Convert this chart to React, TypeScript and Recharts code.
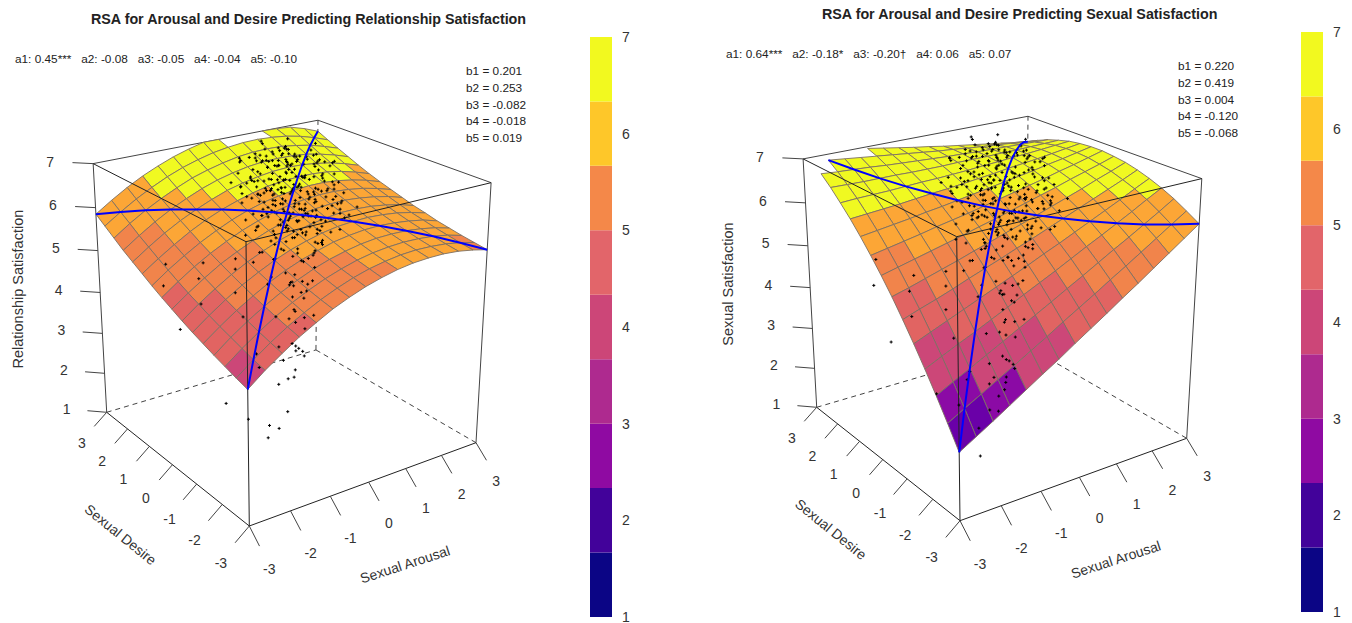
import { BarChart, Bar, YAxis, XAxis, ScatterChart, Scatter } from "recharts";

// grid of the fitted surfaces (columns = arousal, rows = desire)
const gridValues = [-3, -2.6, -2.2, -1.8, -1.4, -1, -0.6, -0.2, 0.2, 0.6, 1, 1.4, 1.8, 2.2, 2.6, 3];
const axisTicks = [-3, -2, -1, 0, 1, 2, 3];
const satTicks = [1, 2, 3, 4, 5, 6, 7];

// null = above the z limit, those facets are not drawn
const relSurface: (number | null)[][] = [
  [4.01, 4.3, 4.55, 4.79, 4.99, 5.18, 5.33, 5.46, 5.56, 5.64, 5.69, 5.71, 5.71, 5.68, 5.62, 5.54],
  [4.09, 4.37, 4.63, 4.86, 5.06, 5.24, 5.39, 5.52, 5.62, 5.69, 5.74, 5.76, 5.75, 5.72, 5.66, 5.58],
  [4.18, 4.46, 4.71, 4.94, 5.14, 5.31, 5.46, 5.58, 5.68, 5.75, 5.79, 5.81, 5.8, 5.77, 5.71, 5.62],
  [4.27, 4.55, 4.8, 5.02, 5.22, 5.39, 5.54, 5.66, 5.75, 5.82, 5.86, 5.87, 5.86, 5.82, 5.76, 5.67],
  [4.37, 4.64, 4.89, 5.11, 5.31, 5.48, 5.62, 5.73, 5.83, 5.89, 5.93, 5.94, 5.92, 5.88, 5.82, 5.72],
  [4.47, 4.74, 4.99, 5.21, 5.4, 5.57, 5.71, 5.82, 5.91, 5.97, 6.0, 6.01, 5.99, 5.95, 5.88, 5.79],
  [4.58, 4.85, 5.09, 5.31, 5.5, 5.66, 5.8, 5.91, 5.99, 6.05, 6.09, 6.09, 6.07, 6.02, 5.95, 5.85],
  [4.7, 4.96, 5.2, 5.42, 5.6, 5.76, 5.9, 6.01, 6.09, 6.14, 6.17, 6.18, 6.15, 6.1, 6.03, 5.93],
  [4.82, 5.08, 5.32, 5.53, 5.71, 5.87, 6.0, 6.11, 6.19, 6.24, 6.27, 6.27, 6.24, 6.19, 6.11, 6.01],
  [4.95, 5.21, 5.44, 5.65, 5.83, 5.99, 6.12, 6.22, 6.29, 6.34, 6.37, 6.37, 6.34, 6.28, 6.2, 6.09],
  [5.09, 5.34, 5.57, 5.78, 5.96, 6.11, 6.23, 6.33, 6.41, 6.45, 6.47, 6.47, 6.44, 6.38, 6.29, 6.18],
  [5.23, 5.48, 5.71, 5.91, 6.08, 6.23, 6.36, 6.45, 6.52, 6.57, 6.59, 6.58, 6.54, 6.48, 6.39, 6.28],
  [5.37, 5.62, 5.85, 6.05, 6.22, 6.37, 6.49, 6.58, 6.65, 6.69, 6.7, 6.69, 6.66, 6.59, 6.5, 6.39],
  [5.53, 5.78, 6.0, 6.19, 6.36, 6.51, 6.62, 6.71, 6.78, 6.82, 6.83, 6.82, 6.77, 6.71, 6.61, 6.5],
  [5.69, 5.93, 6.15, 6.34, 6.51, 6.65, 6.76, 6.85, 6.91, 6.95, 6.96, 6.94, 6.9, 6.83, 6.73, 6.61],
  [5.85, 6.09, 6.31, 6.5, 6.66, 6.8, 6.91, 7.0, 7.0, null, null, 7.0, 6.99, 6.96, 6.86, 6.73],
];

const sexSurface: (number | null)[][] = [
  [2.54, 2.76, 2.98, 3.21, 3.44, 3.67, 3.89, 4.13, 4.36, 4.59, 4.83, 5.06, 5.3, 5.54, 5.78, 6.02],
  [3.0, 3.21, 3.41, 3.62, 3.82, 4.03, 4.24, 4.46, 4.67, 4.88, 5.1, 5.31, 5.53, 5.75, 5.97, 6.19],
  [3.44, 3.63, 3.81, 4.0, 4.19, 4.38, 4.57, 4.76, 4.96, 5.15, 5.35, 5.55, 5.74, 5.94, 6.14, 6.35],
  [3.86, 4.03, 4.2, 4.36, 4.53, 4.7, 4.88, 5.05, 5.22, 5.4, 5.58, 5.75, 5.93, 6.11, 6.3, 6.48],
  [4.26, 4.41, 4.56, 4.71, 4.86, 5.01, 5.16, 5.31, 5.47, 5.62, 5.78, 5.94, 6.1, 6.26, 6.43, 6.59],
  [4.64, 4.77, 4.89, 5.02, 5.16, 5.29, 5.42, 5.56, 5.69, 5.83, 5.97, 6.11, 6.25, 6.39, 6.53, 6.68],
  [5.0, 5.1, 5.21, 5.32, 5.43, 5.55, 5.66, 5.78, 5.89, 6.01, 6.13, 6.25, 6.37, 6.5, 6.62, 6.75],
  [5.33, 5.42, 5.51, 5.6, 5.69, 5.78, 5.88, 5.97, 6.07, 6.17, 6.27, 6.37, 6.48, 6.58, 6.68, 6.79],
  [5.64, 5.71, 5.78, 5.85, 5.93, 6.0, 6.07, 6.15, 6.23, 6.31, 6.39, 6.47, 6.56, 6.64, 6.73, 6.82],
  [5.93, 5.98, 6.03, 6.08, 6.14, 6.19, 6.25, 6.31, 6.37, 6.43, 6.49, 6.55, 6.62, 6.68, 6.75, 6.82],
  [6.2, 6.23, 6.26, 6.29, 6.33, 6.37, 6.4, 6.44, 6.48, 6.52, 6.57, 6.61, 6.65, 6.7, 6.75, 6.8],
  [6.44, 6.46, 6.47, 6.48, 6.5, 6.52, 6.53, 6.55, 6.57, 6.6, 6.62, 6.65, 6.67, 6.7, 6.73, 6.76],
  [6.67, 6.66, 6.65, 6.65, 6.65, 6.64, 6.64, 6.64, 6.65, 6.65, 6.65, 6.66, 6.66, 6.67, 6.68, 6.69],
  [6.87, 6.84, 6.82, 6.8, 6.77, 6.75, 6.73, 6.71, 6.69, 6.68, 6.66, 6.65, 6.64, 6.63, 6.62, 6.61],
  [null, 7.0, 6.96, 6.92, 6.88, 6.84, 6.8, 6.76, 6.72, 6.69, 6.65, 6.62, 6.59, 6.56, 6.53, 6.5],
  [null, null, null, null, 6.96, 6.9, 6.84, 6.78, 6.73, 6.67, 6.62, 6.57, 6.52, 6.47, 6.42, 6.37],
];

// respondents
const arousalScores = [
  1.2, 0.6, 1.8, 0.9, 1.5, 0.3, 2.1, 1.0, 1.4, 0.7,
  0.4, 1.7, 1.1, 2.4, 0.8, 1.3, 0.1, 1.9, 0.5, 1.6,
  1.0, 2.2, 0.2, 1.4, 0.9, 1.8, 0.6, 1.9, 1.2, 0.0,
  1.5, 0.8, 2.0, 1.1, 0.3, 1.7, 0.9, 2.3, 0.6, 1.3,
  0.7, 2.1, 1.6, 0.2, 1.0, 2.0, 0.5, 1.4, 1.1, 1.9,
  1.3, 0.4, 1.8, 0.9, 1.7, 0.1, 1.2, 2.2, 0.6, 1.5,
  1.0, 1.8, 0.3, 1.8, 0.8, 1.4, 1.9, 0.5, 1.1, 1.9,
  0.2, 1.6, 0.7, 1.2, 2.1, 0.9, 1.5, 0.4, 1.8, 0.6,
  1.1, 2.3, 0.0, 1.4, 0.8, 1.7, 1.0, 2.0, 0.3, 1.2,
  1.4, 0.5, 2.2, 0.8, 1.6, 0.2, 1.1, 1.9, 0.7, 1.3,
  0.9, 1.7, 0.4, 1.2, 2.0, 0.6, 1.5, 1.0, 0.3, 1.8,
  1.1, 0.6, 2.4, 1.6, 0.9, 1.3, 0.2, 2.0, 0.8, 1.4,
  1.7, 0.5, 1.0, 2.2, 0.7, 1.2, 1.5, 0.1, 1.9, 0.9,
  0.3, 1.4, 0.8, 1.8, 1.1, 1.8, 0.6, 1.6, 1.2, 0.4,
  0.6, 1.2, 0.0, 1.6, 0.9, 0.3, 1.9, 0.7, 1.3, -0.2,
  0.4, 0.3, -0.4, 0.9, 0.2, 0.8, 1.1, -0.1, 0.7, 0.0,
  -0.1, 0.5, -0.6, 0.2, 0.0, -0.3, 0.1, 0.6, -0.1, 0.5,
  -0.5, -0.3, 0.2, -0.8, -0.4, 0.0, -0.2, -0.3, -1.0, -0.1,
  -0.7, -1.2, -0.6, -0.7, -1.5, -0.6, -0.9, -0.9, -1.8, -1.0,
  -2.2, -1.4, -1.1, -2.0, -1.2, -2.5, -1.0, -1.6, -1.5, -2.7,
  -2.6, -2.3, -2.8, -2.0, -2.0, -1.6, -1.2, -1.8, -2.4, -1.8,
  1.3, 0.7, 1.9, 1.0, 0.4, 1.6, 0.9, 1.2, 2.1, 0.6,
  0.8, 1.5, 1.1, 0.3, 1.8, 1.0, 2.3, 0.5, 1.4, 0.9,
  1.6, 0.6, 1.2, 2.0, 0.2, 1.4, 0.8, 1.7, 1.0, 0.5,
  1.1, 1.9, 0.4, 0.9, 1.5, 0.7, 1.8, 1.3, 0.1, 1.7,
  0.6, 1.2, 1.6, 0.3, 0.9, 2.2, 1.0, 0.7, 1.4, 1.9,
  0.2, 0.8, 1.3, -0.1, 1.0, 0.5, 1.1, 0.0, 0.7, 1.1,
  0.6, 0.0, 0.6, -0.2, 0.1, 0.4, 0.1, 0.9, 0.1, -0.2,
  1.4, 0.9, 1.8, 0.4, 1.1, 0.6, 2.0, 1.3, 0.8, 1.6,
  0.9, 1.1, 0.7, 1.3, 0.8, 1.0, 0.6, 1.2, 0.5, 1.4,
  1.0, 0.8, 1.2, 0.6, 1.1, 0.9, 1.5, 0.7, 1.3, 0.4,
  0.8, 1.4, 1.0, 0.5, 1.2, 0.7, 1.6, 0.9, 0.3, 1.1,
  1.3, 0.6, 0.9, 1.5, 0.8, 1.1, 0.4, 1.2, 0.7, 1.0,
  1.6, 1.2, 1.8, 0.9, 1.4, 1.0, 1.7, 0.8, 1.1, 1.5,
];
const desireScores = [
  1.6, 1.1, 1.9, 2.2, 0.8, 1.4, 1.5, 0.5, 2.4, 1.8,
  0.9, 1.2, 0.3, 1.7, 2.6, 1.0, 1.9, 0.6, 2.1, 2.3,
  1.3, 0.9, 0.7, 2.0, 0.1, 2.5, 1.5, 1.3, 0.6, 1.1,
  2.7, 0.4, 1.0, 1.7, 2.2, 0.2, 1.0, 2.1, 0.8, 1.4,
  2.9, 1.8, 0.7, 1.6, 0.8, 2.8, 1.2, 1.1, 2.6, 0.3,
  1.9, 2.4, 2.2, 1.5, 1.3, 0.6, 0.9, 0.4, 2.0, 2.1,
  2.0, 1.0, 1.2, 0.6, 0.6, 1.5, 2.4, 0.5, 1.1, 0.8,
  2.5, 1.6, 0.9, 2.8, 1.2, 1.9, 0.1, 1.7, 0.5, 1.3,
  1.7, 1.4, 1.6, 0.3, 2.3, 2.6, 1.1, 1.6, 0.9, 2.2,
  1.2, 2.0, 1.9, 2.5, 1.7, 1.0, 1.4, 2.2, 1.6, 0.7,
  1.8, 2.0, 1.7, 1.0, 0.7, 2.7, 1.0, 2.4, 2.0, 1.5,
  0.9, 1.4, 1.6, 2.5, 0.4, 2.2, 2.1, 1.0, 1.7, 0.5,
  0.6, 0.7, 2.2, 1.1, 1.1, 1.2, 2.0, 1.3, 1.9, 2.8,
  1.8, 1.8, 1.3, 0.8, 0.2, 0.5, 1.0, 1.2, 1.5, 0.6,
  0.8, 0.4, 0.6, 0.7, 1.2, 0.2, 0.9, 0.0, 1.0, 0.9,
  1.5, -0.2, 1.0, 0.2, 0.5, 1.6, 0.4, 0.3, 0.7, -0.3,
  -0.4, 0.3, 0.4, -0.5, -0.2, 0.6, -0.6, 1.1, -0.1, -0.1,
  0.0, -0.7, -0.3, 0.8, -0.9, -1.0, -0.5, -1.1, 0.5, -0.8,
  -0.6, 0.2, -1.3, -1.2, 1.0, -1.5, -1.0, -1.6, 0.7, -1.7,
  1.4, -0.4, -1.9, 0.3, -1.6, 1.0, -2.0, -1.2, -2.2, 0.0,
  -2.4, -2.7, -1.9, -2.6, -2.9, -2.6, -1.8, -2.3, -2.8, -1.6,
  1.5, 1.9, 1.3, 1.2, 1.6, 2.3, 0.8, 2.7, 1.7, 1.0,
  2.4, 1.1, 1.9, 1.5, 1.8, 0.7, 1.4, 2.6, 0.9, 1.6,
  1.4, 1.7, 2.3, 1.9, 2.2, 1.8, 1.2, 0.9, 1.5, 1.1,
  2.6, 1.6, 1.3, 2.0, 2.2, 0.4, 1.2, 1.3, 1.7, 2.4,
  0.6, 1.0, 0.9, 0.9, 1.4, 2.0, 1.7, 2.2, 2.1, 1.1,
  0.4, 0.1, 0.5, 0.8, 0.1, 0.3, 0.2, 0.5, 0.6, 0.4,
  0.3, -0.1, -0.2, 0.3, -0.4, -0.4, 0.0, 0.2, -0.5, -0.6,
  1.7, 2.1, 1.1, 2.0, 1.3, 1.5, 1.8, 2.2, 0.9, 2.0,
  1.5, 1.3, 1.7, 1.6, 1.2, 1.8, 1.4, 1.1, 1.9, 1.3,
  1.6, 1.9, 1.4, 1.2, 1.0, 1.3, 1.6, 1.5, 1.9, 1.6,
  1.0, 1.0, 2.0, 1.3, 1.7, 1.9, 1.2, 1.6, 1.4, 1.5,
  0.8, 0.9, 0.9, 1.0, 1.4, 1.1, 1.1, 1.3, 1.0, 0.7,
  1.9, 2.0, 1.5, 2.1, 1.6, 2.3, 1.7, 2.4, 1.8, 1.3,
];
const relScores = [
  6.2, 5.9, 6.4, 5.8, 6.1, 5.6, 6.5, 5.7, 6.3, 6.0,
  5.5, 6.0, 5.4, 6.3, 6.1, 5.9, 5.8, 5.8, 6.2, 6.4,
  6.0, 5.9, 5.3, 6.4, 5.2, 6.5, 6.1, 6.2, 5.6, 5.5,
  6.5, 5.4, 6.0, 6.2, 5.9, 5.6, 5.8, 6.5, 5.6, 6.1,
  6.4, 6.4, 5.7, 5.6, 5.6, 6.5, 5.7, 5.9, 6.4, 5.6,
  6.3, 6.0, 6.5, 6.1, 6.0, 5.2, 5.6, 5.7, 6.2, 6.4,
  6.3, 6.0, 5.7, 5.8, 5.4, 6.1, 6.5, 5.3, 5.8, 5.9,
  6.1, 6.2, 5.6, 6.5, 6.1, 6.2, 5.4, 6.0, 5.6, 5.8,
  6.2, 6.2, 5.5, 5.3, 6.3, 6.5, 5.9, 6.3, 5.3, 6.4,
  6.0, 6.2, 6.4, 6.3, 6.2, 5.7, 6.0, 6.5, 6.1, 5.6,
  6.1, 6.5, 6.0, 5.8, 5.8, 6.5, 5.8, 6.5, 6.2, 6.2,
  5.7, 5.8, 6.4, 6.5, 5.5, 6.5, 6.1, 6.1, 5.9, 5.5,
  5.6, 5.4, 6.4, 6.1, 5.7, 5.9, 6.4, 5.4, 6.5, 6.5,
  5.9, 6.3, 5.8, 5.7, 5.2, 5.7, 5.5, 5.9, 6.0, 5.2,
  5.4, 5.6, 5.3, 5.7, 5.6, 5.0, 5.8, 5.0, 5.5, 5.5,
  5.7, 5.0, 5.4, 5.2, 5.1, 5.8, 5.4, 5.0, 5.2, 4.8,
  4.6, 5.0, 5.0, 4.6, 4.6, 5.1, 4.5, 5.4, 4.8, 5.0,
  4.6, 4.2, 4.6, 5.0, 4.0, 4.1, 4.4, 3.9, 4.9, 4.0,
  4.1, 4.5, 3.6, 3.7, 5.0, 3.5, 3.6, 3.3, 4.8, 3.2,
  5.0, 4.2, 3.9, 4.4, 3.6, 4.7, 3.9, 3.7, 3.5, 4.1,
  3.0, 2.9, 3.2, 2.7, 3.2, 4.4, 4.6, 3.5, 2.7, 3.6,
  6.3, 6.2, 6.3, 6.1, 6.0, 6.7, 5.8, 6.8, 6.5, 5.8,
  6.6, 6.0, 6.5, 5.9, 6.6, 5.7, 6.5, 6.6, 5.9, 6.2,
  6.2, 6.1, 6.7, 6.7, 6.4, 6.5, 5.9, 5.9, 6.1, 5.7,
  6.9, 6.4, 5.8, 6.6, 6.8, 5.4, 6.3, 6.1, 6.0, 6.9,
  5.4, 5.7, 5.7, 5.3, 6.0, 6.8, 6.3, 6.6, 6.8, 6.0,
  5.1, 5.0, 5.4, 5.0, 5.2, 5.1, 5.1, 4.9, 5.3, 5.3,
  4.8, 4.5, 4.8, 4.6, 4.4, 4.6, 4.5, 5.0, 4.3, 4.1,
  6.4, 6.6, 6.2, 6.3, 6.1, 6.1, 6.6, 6.8, 5.7, 6.6,
  6.0, 6.2, 6.3, 6.0, 6.4, 6.2, 5.9, 6.4, 6.1, 6.3,
  5.8, 6.5, 5.7, 6.2, 5.7, 6.5, 5.9, 6.0, 6.6, 6.5,
  5.6, 5.6, 6.6, 5.7, 6.6, 5.7, 5.7, 6.6, 5.6, 6.5,
  5.4, 5.4, 5.5, 5.6, 5.4, 5.4, 5.3, 5.3, 5.4, 5.2,
  6.5, 6.8, 6.5, 6.7, 6.0, 6.8, 6.2, 6.7, 6.0, 5.9,
];
const sexScores = [
  6.1, 5.8, 6.5, 6.2, 5.8, 5.5, 6.4, 5.5, 6.5, 6.0,
  5.2, 5.9, 5.1, 6.3, 6.2, 5.8, 5.6, 5.7, 6.0, 6.4,
  5.9, 6.0, 5.0, 6.3, 5.0, 6.5, 5.9, 6.2, 5.5, 5.3,
  6.5, 5.2, 5.9, 6.1, 5.8, 5.3, 5.6, 6.5, 5.4, 6.0,
  6.4, 6.4, 5.6, 5.5, 5.4, 6.5, 5.5, 5.8, 6.4, 5.6,
  6.3, 5.9, 6.5, 6.0, 6.0, 5.0, 5.4, 5.8, 6.1, 6.4,
  6.2, 5.9, 5.5, 5.9, 5.3, 6.1, 6.5, 5.0, 5.7, 6.0,
  6.0, 6.1, 5.4, 6.5, 6.1, 6.1, 5.3, 5.8, 5.7, 5.6,
  6.1, 6.3, 5.3, 5.3, 6.2, 6.5, 5.7, 6.2, 5.0, 6.3,
  5.9, 6.1, 6.4, 6.3, 6.2, 5.6, 5.9, 6.5, 6.0, 5.6,
  6.0, 6.5, 5.9, 5.7, 5.8, 6.4, 5.8, 6.5, 6.0, 6.2,
  5.6, 5.7, 6.4, 6.5, 5.3, 6.4, 5.9, 6.1, 5.8, 5.4,
  5.6, 5.2, 6.3, 6.1, 5.5, 5.8, 6.4, 5.2, 6.5, 6.4,
  5.7, 6.2, 5.7, 5.7, 5.0, 5.8, 5.3, 5.8, 5.9, 4.9,
  5.2, 5.3, 5.0, 5.6, 5.4, 4.8, 5.6, 4.9, 5.5, 5.1,
  5.5, 4.8, 5.2, 5.1, 4.8, 5.7, 5.4, 4.7, 5.1, 4.5,
  4.3, 4.8, 4.7, 4.5, 4.2, 4.8, 4.3, 5.2, 4.5, 4.9,
  4.2, 3.8, 4.4, 4.6, 3.6, 3.9, 4.0, 3.6, 4.4, 3.8,
  3.6, 4.0, 3.2, 3.3, 4.6, 3.1, 3.1, 2.9, 4.4, 2.8,
  5.0, 3.6, 3.2, 4.0, 3.1, 4.6, 3.5, 3.0, 3.0, 3.7,
  3.2, 2.1, 3.3, 3.0, 3.1, 4.0, 4.2, 3.4, 2.8, 3.4,
  6.2, 6.2, 6.3, 6.0, 5.9, 6.7, 5.6, 6.8, 6.5, 5.6,
  6.6, 6.0, 6.4, 5.7, 6.6, 5.5, 6.5, 6.5, 5.8, 6.1,
  6.2, 6.0, 6.7, 6.7, 6.2, 6.4, 5.8, 5.9, 6.0, 5.5,
  6.9, 6.4, 5.6, 6.5, 6.8, 5.2, 6.4, 6.0, 5.8, 6.9,
  5.2, 5.5, 5.7, 5.0, 5.8, 6.8, 6.2, 6.5, 6.8, 6.0,
  4.8, 4.7, 5.3, 4.7, 5.3, 4.8, 4.9, 4.6, 5.1, 5.3,
  4.7, 4.2, 4.7, 4.3, 4.1, 4.5, 4.2, 5.0, 4.1, 3.8,
  6.4, 6.6, 6.2, 6.2, 6.1, 6.0, 6.6, 6.8, 5.6, 6.6,
  6.0, 6.1, 6.3, 5.9, 6.4, 6.1, 5.8, 6.4, 6.0, 6.3,
  5.7, 6.5, 5.6, 6.1, 5.5, 6.5, 5.8, 5.9, 6.6, 6.4,
  5.4, 5.5, 6.6, 5.5, 6.6, 5.5, 5.7, 6.6, 5.4, 6.5,
  5.4, 5.2, 5.3, 5.6, 5.2, 5.3, 5.0, 5.2, 5.2, 5.0,
  6.5, 6.8, 6.6, 6.7, 6.0, 6.8, 6.3, 6.7, 6.0, 6.0,
];

const legendBands = [1.667, 0.667, 0.666, 0.667, 0.667, 0.666, 0.667, 0.667, 0.666];
const legendColors = ["#0B0585", "#42029A", "#8F0AA2", "#AE2A8F", "#CC4678", "#E2656A", "#F48849", "#FEC729", "#F2F91F"];
const facetLimits = [3.1, 3.67, 4.33, 5, 5.67, 6.33];
const facetColors = ["#6A00A8", "#8B0AA5", "#CC4778", "#E16462", "#F1844B", "#FCA636", "#F0F921"];

type Projection = { o: number[]; a: number[]; b: number[]; c: number[] };

const projA: Projection = { o: [249.3, 526], a: [476, 442.7], b: [106.7, 412.3], c: [246, 241.7] };
const projB: Projection = { o: [960, 520.7], a: [1186.7, 438.3], b: [816.7, 407.3], c: [956.7, 236.7] };
// perspective weights of the three box axes
const WA = 1.112;
const WB = 1.169;
const WC = 0.918;

// arousal, desire, satisfaction -> picture position
function project(p: Projection, x: number, y: number, z: number) {
  const u = (x + 3) / 6;
  const v = (y + 3) / 6;
  const w = (z - 1) / 6;
  const h = 1 + (WA - 1) * u + (WB - 1) * v + (WC - 1) * w;
  const px = p.o[0] + (WA * u * (p.a[0] - p.o[0]) + WB * v * (p.b[0] - p.o[0]) + WC * w * (p.c[0] - p.o[0])) / h;
  const py = p.o[1] + (WA * u * (p.a[1] - p.o[1]) + WB * v * (p.b[1] - p.o[1]) + WC * w * (p.c[1] - p.o[1])) / h;
  return { px, py };
}

function facetColor(z: number) {
  const idx = facetLimits.findIndex((l) => z < l);
  return facetColors[idx === -1 ? facetColors.length - 1 : idx];
}

function buildFacets(p: Projection, surface: (number | null)[][]) {
  const out: any[] = [];
  for (let j = gridValues.length - 2; j >= 0; j--) {
    for (let i = gridValues.length - 2; i >= 0; i--) out.push({ i, j });
  }
  out.sort((m, n) => n.i + n.j - (m.i + m.j));
  return out
    .map(({ i, j }) => {
      const zs = [surface[j][i], surface[j][i + 1], surface[j + 1][i + 1], surface[j + 1][i]];
      if (zs.some((z) => z === null)) return null;
      const xs = [gridValues[i], gridValues[i + 1], gridValues[i + 1], gridValues[i]];
      const ys = [gridValues[j], gridValues[j], gridValues[j + 1], gridValues[j + 1]];
      const corners = zs.map((z, k) => project(p, xs[k], ys[k], z as number));
      const px = corners.reduce((s, c) => s + c.px, 0) / 4;
      const py = corners.reduce((s, c) => s + c.py, 0) / 4;
      const mean = (zs as number[]).reduce((s, z) => s + z, 0) / 4;
      return { px, py, corners, fill: facetColor(mean) };
    })
    .filter(Boolean);
}

const FacetShape = (props: any) => {
  const { cx, cy, payload } = props;
  const pts = payload.corners.map((c: any) => `${cx + c.px - payload.px},${cy + c.py - payload.py}`).join(" ");
  return <polygon points={pts} fill={payload.fill} stroke="#7d6f62" strokeWidth={0.9} />;
};

const NoDot = () => <g />;

// small plus sign, like pch = 3 at this size
const DotShape = (props: any) => (
  <path d={`M${props.cx - 1.5} ${props.cy}h3M${props.cx} ${props.cy - 1.5}v3`} stroke="#000" strokeWidth={1} fill="none" />
);

const LabelShape = (props: any) => {
  const { cx, cy, payload } = props;
  return (
    <text
      x={cx}
      y={cy}
      textAnchor="middle"
      dominantBaseline="central"
      fontSize={payload.size}
      fill="#333"
      fontFamily="Liberation Sans, Arial, sans-serif"
      transform={payload.angle ? `rotate(${payload.angle} ${cx} ${cy})` : undefined}
    >
      {payload.text}
    </text>
  );
};

function Panel({ p, surface, scores, left, zTitle }: any) {
  const pt = (x: number, y: number, z: number) => project(p, x, y, z);
  const seg = (a: any, b: any) => [a, b];

  const backEdges = [
    seg(pt(-3, 3, 7), pt(3, 3, 7)),
    seg(pt(3, 3, 7), pt(3, -3, 7)),
    seg(pt(-3, 3, 1), pt(-3, 3, 7)),
    seg(pt(3, -3, 1), pt(3, -3, 7)),
  ];
  const hiddenEdges = [
    seg(pt(-3, 3, 1), pt(3, 3, 1)),
    seg(pt(3, 3, 1), pt(3, -3, 1)),
    seg(pt(3, 3, 1), pt(3, 3, 7)),
  ];
  const frontEdges = [
    seg(pt(-3, -3, 1), pt(3, -3, 1)),
    seg(pt(-3, -3, 1), pt(-3, 3, 1)),
    seg(pt(-3, -3, 1), pt(-3, -3, 7)),
    seg(pt(-3, -3, 7), pt(-3, 3, 7)),
    seg(pt(-3, -3, 7), pt(3, -3, 7)),
  ];
  const tickLines = [
    ...axisTicks.map((t) => seg(pt(t, -3, 1), pt(t, -3.36, 0.724))),
    ...axisTicks.map((t) => seg(pt(-3, t, 1), pt(-3.34, t, 0.736))),
    ...satTicks.map((t) => seg(pt(-3, 3, t), pt(-3.33, 3.33, t))),
  ];
  const labels = [
    ...axisTicks.map((t) => ({ ...pt(t, -3.7, 0.37), text: String(t), size: 14 })),
    ...axisTicks.map((t) => ({ ...pt(-3.68, t, 0.4), text: String(t), size: 14 })),
    ...satTicks.map((t) => ({ ...pt(-3.69, 3.69, t), text: String(t), size: 14 })),
    { ...pt(0, -4.26, -0.34), text: "Sexual Arousal", size: 14, angle: -18 },
    { ...pt(-4.33, 0, -0.27), text: "Sexual Desire", size: 14, angle: 39 },
    { ...pt(-4.37, 4.37, 3.95), text: zTitle, size: 14.5, angle: -90 },
  ];

  const n = gridValues.length;
  const loc = gridValues.map((v, i) => (surface[i][i] === null ? null : pt(v, v, surface[i][i]))).filter(Boolean);
  const loic = gridValues
    .map((v, i) => (surface[n - 1 - i][i] === null ? null : pt(v, -v, surface[n - 1 - i][i])))
    .filter(Boolean);
  const dots = arousalScores.map((a, i) => pt(a, desireScores[i], scores[i]));
  const facets = buildFacets(p, surface);

  return (
    <div style={{ position: "absolute", left, top: 0 }}>
      <ScatterChart width={676} height={623} margin={{ top: 0, right: 0, bottom: 0, left: 0 }}>
        <XAxis type="number" dataKey="px" domain={[left, left + 676]} hide />
        <YAxis type="number" dataKey="py" domain={[0, 623]} reversed hide />
        {backEdges.map((d, i) => (
          <Scatter key={`back${i}`} data={d} shape={NoDot} line={{ stroke: "#444", strokeWidth: 1 }} isAnimationActive={false} />
        ))}
        {hiddenEdges.map((d, i) => (
          <Scatter key={`hid${i}`} data={d} shape={NoDot} line={{ stroke: "#444", strokeWidth: 1, strokeDasharray: "5 4" }} isAnimationActive={false} />
        ))}
        <Scatter data={facets} shape={FacetShape} isAnimationActive={false} />
        {frontEdges.map((d, i) => (
          <Scatter key={`front${i}`} data={d} shape={NoDot} line={{ stroke: "#222", strokeWidth: 1 }} isAnimationActive={false} />
        ))}
        {tickLines.map((d, i) => (
          <Scatter key={`tick${i}`} data={d} shape={NoDot} line={{ stroke: "#444", strokeWidth: 1 }} isAnimationActive={false} />
        ))}
        <Scatter data={dots} shape={DotShape} isAnimationActive={false} />
        <Scatter data={loc} shape={NoDot} line={{ stroke: "#0000FF", strokeWidth: 2 }} isAnimationActive={false} />
        <Scatter data={loic} shape={NoDot} line={{ stroke: "#0000FF", strokeWidth: 2 }} isAnimationActive={false} />
        <Scatter data={labels} shape={LabelShape} isAnimationActive={false} />
      </ScatterChart>
    </div>
  );
}

function ColorBar({ left, top }: { left: number; top: number }) {
  const row: Record<string, number | string> = { name: "legend" };
  legendBands.forEach((b, i) => (row[`b${i}`] = b));
  return (
    <div style={{ position: "absolute", left, top }}>
      <BarChart width={62} height={620} data={[row]} margin={{ top: 10, right: 0, bottom: 30, left: 0 }} barCategoryGap={0}>
        <XAxis dataKey="name" hide />
        <YAxis
          orientation="right"
          domain={[1, 7]}
          ticks={satTicks}
          width={40}
          axisLine={false}
          tickLine={false}
          tickMargin={4}
          allowDataOverflow
          tick={{ fontSize: 14, fill: "#333", fontFamily: "Liberation Sans, Arial, sans-serif" }}
        />
        {legendBands.map((_, i) => (
          <Bar key={i} dataKey={`b${i}`} stackId="s" fill={legendColors[i]} isAnimationActive={false} />
        ))}
      </BarChart>
    </div>
  );
}

const textBase: React.CSSProperties = {
  position: "absolute",
  fontFamily: "Liberation Sans, Arial, sans-serif",
  color: "#222",
  whiteSpace: "pre",
  lineHeight: 1,
};

function Note({ left, top, size = 11.8, bold, children }: any) {
  return <div style={{ ...textBase, left, top, fontSize: size, fontWeight: bold ? 700 : 400 }}>{children}</div>;
}

export default function App() {
  const coefA = ["b1 = 0.201", "b2 = 0.253", "b3 = -0.082", "b4 = -0.018", "b5 = 0.019"];
  const coefB = ["b1 = 0.220", "b2 = 0.419", "b3 = 0.004", "b4 = -0.120", "b5 = -0.068"];
  return (
    <div style={{ position: "absolute", left: 0, top: 0, width: 1352, height: 623, background: "#fff", overflow: "hidden" }}>
      <Panel p={projA} surface={relSurface} scores={relScores} left={0} zTitle="Relationship Satisfaction" />
      <Panel p={projB} surface={sexSurface} scores={sexScores} left={676} zTitle="Sexual Satisfaction" />
      <ColorBar left={590} top={27} />
      <ColorBar left={1301} top={22} />
      <Note left={91} top={12} size={14.3} bold>RSA for Arousal and Desire Predicting Relationship Satisfaction</Note>
      <Note left={822} top={7} size={14.3} bold>RSA for Arousal and Desire Predicting Sexual Satisfaction</Note>
      <Note left={15} top={54}>a1: 0.45***   a2: -0.08   a3: -0.05   a4: -0.04   a5: -0.10</Note>
      <Note left={726} top={49}>a1: 0.64***   a2: -0.18*   a3: -0.20†   a4: 0.06   a5: 0.07</Note>
      {coefA.map((c, i) => (
        <Note key={c} left={466} top={66 + i * 16.8}>{c}</Note>
      ))}
      {coefB.map((c, i) => (
        <Note key={c} left={1178} top={61 + i * 16.8}>{c}</Note>
      ))}
    </div>
  );
}
